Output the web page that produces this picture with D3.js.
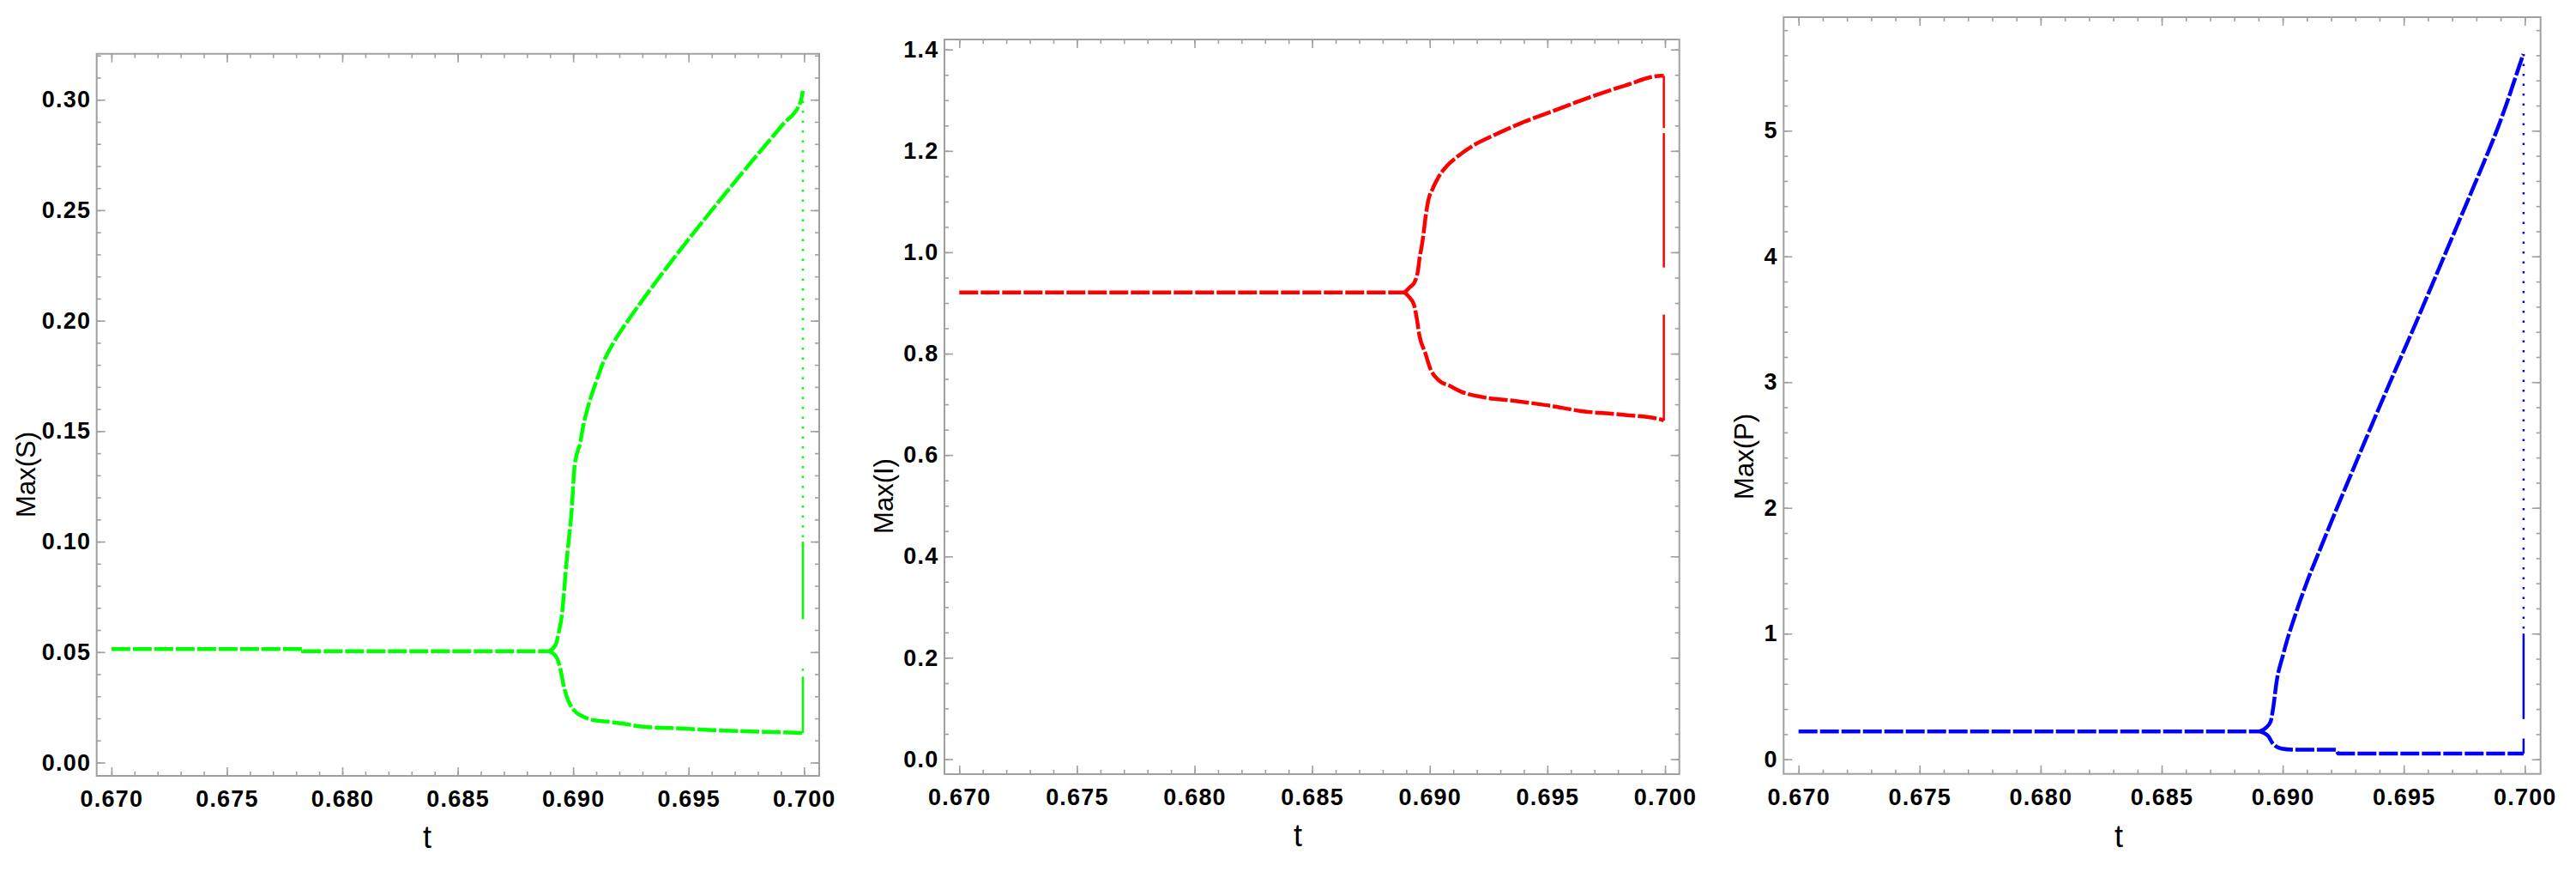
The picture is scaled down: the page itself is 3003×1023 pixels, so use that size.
<!DOCTYPE html>
<html>
<head>
<meta charset="utf-8">
<script src="https://cdn.jsdelivr.net/npm/d3@7"></script>
<style>
  body { margin: 0; background: #fff; }
  .frame { fill: none; stroke: #a0a0a0; stroke-width: 2; }
  .tick line { stroke: #a0a0a0; stroke-width: 1.6; }
  .tick text { font-family: 'Liberation Sans', Arial, sans-serif; font-weight: bold; font-size: 27px; fill: #000; letter-spacing: 1.2px; }
  .title { font-family: 'Liberation Sans', Arial, sans-serif; fill: #000; }
</style>
</head>
<body>
<svg id="chart" width="3003" height="1023"></svg>
<script>
var xTicks = [0.670, 0.675, 0.680, 0.685, 0.690, 0.695, 0.700]

// Max(S)
var sTicks = [0, 0.05, 0.10, 0.15, 0.20, 0.25, 0.30]
var sFlat = [[0.670, 0.0514], [0.6783, 0.0514], [0.6783, 0.0504], [0.68895, 0.0504]]
var sUpper = [[0.68895, 0.0504], [0.68923, 0.0531], [0.68939, 0.0596], [0.68951, 0.0667], [0.6896, 0.0765],
  [0.6897, 0.0894], [0.68982, 0.1017], [0.68992, 0.1121], [0.69007, 0.135], [0.69031, 0.145], [0.69043, 0.152],
  [0.69067, 0.162], [0.69102, 0.173], [0.69126, 0.180], [0.69173, 0.1897], [0.69244, 0.2010], [0.69327, 0.2131],
  [0.69434, 0.2280], [0.69552, 0.2437], [0.69671, 0.2591], [0.69801, 0.2755], [0.69908, 0.2888], [0.69985, 0.2990],
  [0.69995, 0.304]]
var sLower = [[0.68895, 0.0504], [0.68926, 0.048], [0.68945, 0.0422], [0.68957, 0.0357], [0.6897, 0.0305],
  [0.68988, 0.026], [0.69013, 0.0227], [0.69044, 0.0208], [0.69093, 0.0191], [0.69143, 0.0186], [0.69217, 0.0176],
  [0.69304, 0.0162], [0.69428, 0.0156], [0.69602, 0.0147], [0.69837, 0.0139], [0.69992, 0.0134]]
var sEdgeDots = [[[0.69995, 0.304], [0.69995, 0.100]]]
var sEdgeSolid = [[[0.69995, 0.100], [0.69995, 0.0649]], [[0.69995, 0.0389], [0.69995, 0.0134]], [[0.69995, 0.0425], [0.69995, 0.0415]]]

// Max(I)
var iTicks = [0, 0.2, 0.4, 0.6, 0.8, 1.0, 1.2, 1.4]
var iFlat = [[0.670, 0.9207], [0.68893, 0.9207]]
var iUpper = [[0.68893, 0.9207], [0.68914, 0.9304], [0.68936, 0.9418], [0.68949, 0.9614], [0.68957, 0.9897],
  [0.68966, 1.0122], [0.68973, 1.0349], [0.68982, 1.0688], [0.68994, 1.1026], [0.69012, 1.1251], [0.69036, 1.1476],
  [0.69073, 1.1703], [0.69121, 1.19], [0.69182, 1.2098], [0.69279, 1.2323], [0.69389, 1.255], [0.69534, 1.2804],
  [0.69680, 1.3058], [0.69826, 1.3283], [0.69984, 1.3481], [0.69995, 1.348]]
var iLower = [[0.68893, 0.9207], [0.6891, 0.9128], [0.68933, 0.8963], [0.68945, 0.8687], [0.68956, 0.8356],
  [0.6898, 0.8025], [0.69003, 0.7695], [0.69038, 0.7474], [0.69085, 0.7364], [0.69131, 0.7254], [0.69224, 0.7143],
  [0.69364, 0.7066], [0.69504, 0.6978], [0.69643, 0.6868], [0.6983, 0.6791], [0.69981, 0.6703], [0.69995, 0.668]]
var iEdgeDots = []
var iEdgeSolid = [[[0.69995, 1.348], [0.69995, 1.245]], [[0.69995, 1.235], [0.69995, 0.970]], [[0.69995, 0.877], [0.69995, 0.668]]]

// Max(P)
var pTicks = [0, 1, 2, 3, 4, 5]
var pFlat = [[0.670, 0.222], [0.68905, 0.222]]
var pUpper = [[0.68905, 0.222], [0.6893, 0.25], [0.6895, 0.30], [0.6896, 0.40], [0.68975, 0.62], [0.6900, 0.82],
  [0.6902, 0.96], [0.6904, 1.08], [0.6907, 1.25], [0.6910, 1.41], [0.6915, 1.65], [0.6922, 1.98], [0.6932, 2.44],
  [0.6943, 2.94], [0.6955, 3.47], [0.6966, 3.97], [0.6977, 4.47], [0.6984, 4.79], [0.6989, 5.03],
  [0.69924, 5.21], [0.69959, 5.41], [0.69994, 5.61]]
var pLower = [[0.68905, 0.222], [0.68939, 0.187], [0.68961, 0.12], [0.68995, 0.085], [0.6905, 0.076],
  [0.6922, 0.076], [0.6923, 0.045], [0.69995, 0.045]]
var pEdgeDots = [[[0.69995, 5.61], [0.69995, 1.0]]]
var pEdgeSolid = [[[0.69995, 1.0], [0.69995, 0.32]], [[0.69995, 0.165], [0.69995, 0.045]]]

var panels = [
  {frame: [112.7, 62.7, 955, 904], xRange: [129.9, 937.3], yRange: [888.5, 116.2], yTicks: sTicks, minor: 0.01,
    fmt: '.2f', color: '#00ff00', flat: sFlat, upper: sUpper, lower: sLower, dots: sEdgeDots, solid: sEdgeSolid,
    label: 'Max(S)', labelPos: [41, 553], tPos: [498, 988]},
  {frame: [1101, 46, 1957.7, 902], xRange: [1118.3, 1941], yRange: [884.5, 57.7], yTicks: iTicks, minor: 0.05,
    fmt: '.1f', color: '#ff0000', flat: iFlat, upper: iUpper, lower: iLower, dots: iEdgeDots, solid: iEdgeSolid,
    label: 'Max(I)', labelPos: [1041, 578], tPos: [1513, 986]},
  {frame: [2079.3, 20, 2961.7, 901.7], xRange: [2096.7, 2943.3], yRange: [884.7, 152.3], yTicks: pTicks, minor: 0.2,
    fmt: 'd', color: '#0000ff', flat: pFlat, upper: pUpper, lower: pLower, dots: pEdgeDots, solid: pEdgeSolid,
    label: 'Max(P)', labelPos: [2044, 532], tPos: [2470, 987]}
]

var svg = d3.select('#chart')

var drawPanel = function(p) {
  var x = d3.scaleLinear().domain([xTicks[0], xTicks[xTicks.length - 1]]).range(p.xRange)
  var y = d3.scaleLinear().domain([p.yTicks[0], p.yTicks[p.yTicks.length - 1]]).range(p.yRange)
  var left = p.frame[0], top = p.frame[1], right = p.frame[2], bottom = p.frame[3]
  var g = svg.append('g')

  var xMinor = d3.range(665, 706).map(function(d) { return d / 1000 })
    .filter(function(d) { return x(d) > left + 1 && x(d) < right - 1 })
  var yMinor = d3.range(-5, 40).map(function(d) { return d * p.minor })
    .filter(function(d) { return y(d) > top + 1 && y(d) < bottom - 1 })

  var clean = function(sel) { sel.select('.domain').remove() }

  // minor ticks on all four sides
  g.append('g').attr('transform', 'translate(0,' + bottom + ')')
    .call(d3.axisBottom(x).tickValues(xMinor).tickSize(-5).tickFormat('')).call(clean)
  g.append('g').attr('transform', 'translate(0,' + top + ')')
    .call(d3.axisTop(x).tickValues(xMinor).tickSize(-5).tickFormat('')).call(clean)
  g.append('g').attr('transform', 'translate(' + left + ',0)')
    .call(d3.axisLeft(y).tickValues(yMinor).tickSize(-5).tickFormat('')).call(clean)
  g.append('g').attr('transform', 'translate(' + right + ',0)')
    .call(d3.axisRight(y).tickValues(yMinor).tickSize(-5).tickFormat('')).call(clean)

  // major ticks
  g.append('g').attr('transform', 'translate(0,' + bottom + ')')
    .call(d3.axisBottom(x).tickValues(xTicks).tickSize(-10).tickPadding(17).tickFormat(d3.format('.3f'))).call(clean)
  g.append('g').attr('transform', 'translate(0,' + top + ')')
    .call(d3.axisTop(x).tickValues(xTicks).tickSize(-10).tickFormat('')).call(clean)
  g.append('g').attr('transform', 'translate(' + left + ',0)')
    .call(d3.axisLeft(y).tickValues(p.yTicks).tickSize(-10).tickPadding(6.5).tickFormat(d3.format(p.fmt))).call(clean)
  g.append('g').attr('transform', 'translate(' + right + ',0)')
    .call(d3.axisRight(y).tickValues(p.yTicks).tickSize(-10).tickFormat('')).call(clean)

  g.append('rect').attr('class', 'frame')
    .attr('x', left).attr('y', top)
    .attr('width', right - left).attr('height', bottom - top)

  var line = d3.line()
    .x(function(d) { return x(d[0]) })
    .y(function(d) { return y(d[1]) })
  var curve = d3.line()
    .curve(d3.curveMonotoneX)
    .x(function(d) { return x(d[0]) })
    .y(function(d) { return y(d[1]) })

  var marks = g.append('g')
  marks.append('path').datum(p.flat)
    .attr('d', line)
    .style('fill', 'none')
    .style('stroke', p.color)
    .style('stroke-width', 4.5)
    .style('stroke-dasharray', '22,3')
  ;[p.upper, p.lower].forEach(function(branch) {
    marks.append('path').datum(branch)
      .attr('d', curve)
      .style('fill', 'none')
      .style('stroke', p.color)
      .style('stroke-width', 4.5)
      .style('stroke-dasharray', '22,3')
  })
  p.solid.forEach(function(seg) {
    marks.append('path').datum(seg)
      .attr('d', line)
      .style('fill', 'none')
      .style('stroke', p.color)
      .style('stroke-width', 2.5)
  })
  p.dots.forEach(function(seg) {
    marks.append('path').datum(seg)
      .attr('d', line)
      .style('fill', 'none')
      .style('stroke', p.color)
      .style('stroke-width', 2.5)
      .style('stroke-dasharray', '2.5,9')
  })

  // axis titles
  svg.append('text').attr('class', 'title')
    .attr('x', p.tPos[0]).attr('y', p.tPos[1])
    .attr('text-anchor', 'middle')
    .style('font-size', '36px')
    .text('t')
  svg.append('text').attr('class', 'title')
    .attr('transform', 'translate(' + p.labelPos[0] + ',' + p.labelPos[1] + ') rotate(-90)')
    .attr('text-anchor', 'middle')
    .style('font-size', '31px')
    .text(p.label)
}

panels.forEach(drawPanel)
</script>
</body>
</html>
